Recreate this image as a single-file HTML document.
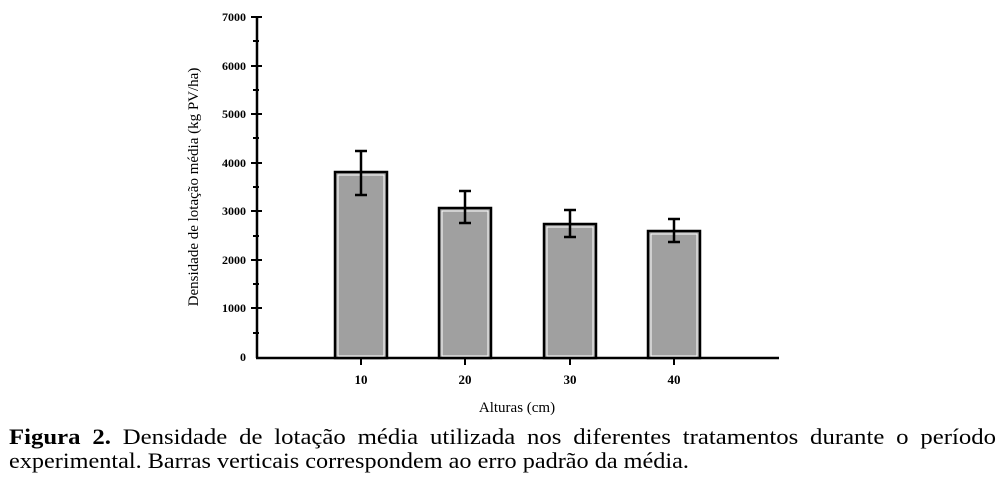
<!DOCTYPE html>
<html><head><meta charset="utf-8"><style>
body{margin:0;background:#fff;width:1004px;height:483px;overflow:hidden;position:relative;font-family:"Liberation Serif",serif}
</style></head><body>
<svg width="1004" height="483" style="position:absolute;left:0;top:0" font-family="Liberation Serif, serif">
<g stroke="#000" stroke-width="2.5" fill="none">
<line x1="257" y1="16" x2="257" y2="358"/>
<line x1="256" y1="358" x2="779" y2="358"/>
</g>
<g stroke="#000" stroke-width="2">
<line x1="251" y1="17" x2="262" y2="17"/><line x1="251" y1="66" x2="262" y2="66"/>
<line x1="251" y1="114" x2="262" y2="114"/><line x1="251" y1="163" x2="262" y2="163"/>
<line x1="251" y1="211" x2="262" y2="211"/><line x1="251" y1="260" x2="262" y2="260"/>
<line x1="251" y1="308" x2="262" y2="308"/>
<line x1="253" y1="41" x2="259" y2="41"/><line x1="253" y1="90" x2="259" y2="90"/>
<line x1="253" y1="138" x2="259" y2="138"/><line x1="253" y1="187" x2="259" y2="187"/>
<line x1="253" y1="236" x2="259" y2="236"/><line x1="253" y1="284" x2="259" y2="284"/>
<line x1="253" y1="333" x2="259" y2="333"/>
<line x1="361" y1="358" x2="361" y2="365"/><line x1="465" y1="358" x2="465" y2="365"/>
<line x1="570" y1="358" x2="570" y2="365"/><line x1="674" y1="358" x2="674" y2="365"/>
</g>
<g font-size="12" font-weight="bold" text-anchor="end">
<text x="246" y="21">7000</text><text x="246" y="70">6000</text><text x="246" y="118">5000</text>
<text x="246" y="167">4000</text><text x="246" y="215">3000</text><text x="246" y="264">2000</text>
<text x="246" y="312">1000</text><text x="246" y="361">0</text>
</g>
<g font-size="13" font-weight="bold" text-anchor="middle">
<text x="361" y="384">10</text><text x="465" y="384">20</text><text x="570" y="384">30</text><text x="674" y="384">40</text>
</g>
<text x="517" y="412" font-size="15" text-anchor="middle">Alturas (cm)</text>
<text transform="translate(198,187) rotate(-90)" font-size="15" text-anchor="middle">Densidade de lotação média (kg PV/ha)</text>
<g fill="#a0a0a0" stroke="#000" stroke-width="2.5">
<rect x="335" y="172" width="52" height="186"/>
<rect x="439" y="208" width="52" height="150"/>
<rect x="544" y="224" width="52" height="134"/>
<rect x="648" y="231" width="52" height="127"/>
</g>
<g fill="none" stroke="#fff" stroke-width="1">
<rect x="338" y="175" width="46" height="181"/>
<rect x="442" y="211" width="46" height="145"/>
<rect x="547" y="227" width="46" height="129"/>
<rect x="651" y="234" width="46" height="122"/>
</g>
<g stroke="#000" stroke-width="2.5">
<line x1="361" y1="151" x2="361" y2="195"/><line x1="355" y1="151" x2="367" y2="151"/><line x1="355" y1="195" x2="367" y2="195"/>
<line x1="465" y1="191" x2="465" y2="223"/><line x1="459" y1="191" x2="471" y2="191"/><line x1="459" y1="223" x2="471" y2="223"/>
<line x1="570" y1="210" x2="570" y2="237"/><line x1="564" y1="210" x2="576" y2="210"/><line x1="564" y1="237" x2="576" y2="237"/>
<line x1="674" y1="219" x2="674" y2="242"/><line x1="668" y1="219" x2="680" y2="219"/><line x1="668" y1="242" x2="680" y2="242"/>
</g>
<text x="9" y="444" font-size="22" textLength="987" lengthAdjust="spacingAndGlyphs" word-spacing="5"><tspan font-weight="bold">Figura 2.</tspan> Densidade de lotação média utilizada nos diferentes tratamentos durante o período</text>
<text x="9" y="468" font-size="22" textLength="680" lengthAdjust="spacingAndGlyphs">experimental. Barras verticais correspondem ao erro padrão da média.</text>
</svg>
</body></html>
